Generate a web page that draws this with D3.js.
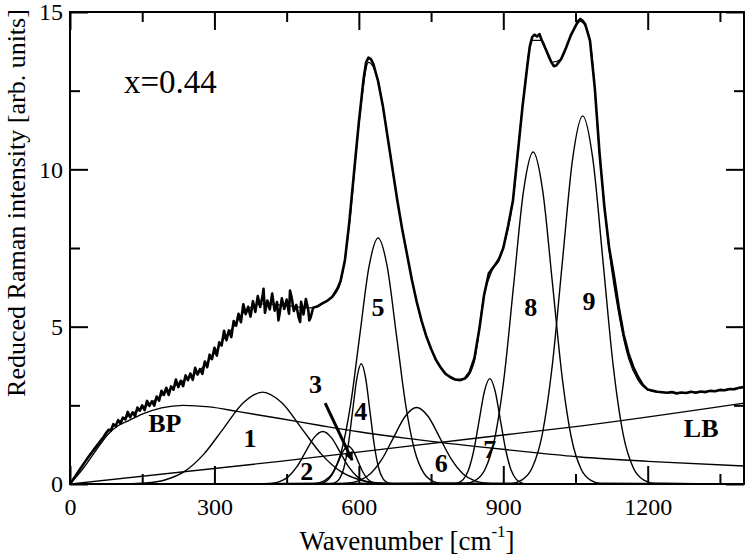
<!DOCTYPE html>
<html><head><meta charset="utf-8">
<script src="https://cdn.jsdelivr.net/npm/d3@7"></script>
<style>body{margin:0;background:#fff}svg{display:block}</style>
</head><body>
<svg id="chart" width="747" height="557"></svg>
<script>
// ---------------- DATA ----------------
const xTicksMajor = [0, 300, 600, 900, 1200];
const xTicksMinor = [150, 450, 750, 1050, 1350];
const yTicksMajor = [0, 5, 10, 15];
const yTicksMinor = [2.5, 7.5, 12.5];

const measured = [
[0,0],[10,0.22],[20,0.45],[30,0.68],[40,0.9],[50,1.1],[60,1.3],[70,1.5],[75,1.62],
[80,1.72],[85,1.70],[90,1.9],[95,1.84],[100,2.03],[105,1.92],[110,2.11],[115,2.05],
[120,2.29],[125,2.12],[130,2.28],[135,2.16],[140,2.43],[145,2.33],[150,2.50],[155,2.35],
[160,2.64],[165,2.48],[170,2.63],[175,2.49],[180,2.78],[185,2.65],[190,2.96],[195,2.83],
[200,3.06],[205,2.83],[210,3.10],[215,3.00],[220,3.32],[225,3.08],[230,3.28],[235,3.11],
[240,3.45],[245,3.30],[250,3.51],[255,3.31],[260,3.69],[265,3.48],[270,3.65],[275,3.50],
[280,3.89],[285,3.71],[290,4.11],[295,3.97],[300,4.33],[305,4.08],[310,4.50],[315,4.40],
[320,4.87],[325,4.57],[330,4.88],[335,4.67],[340,5.18],[345,5.03],[350,5.41],[355,5.14],
[360,5.71],[365,5.40],[370,5.63],[375,5.32],[380,5.81],[385,5.47],[390,5.97],[395,5.63],
[400,5.97],[402,6.2],[405,5.44],[410,5.83],[415,5.55],[420,6.05],[425,5.51],[430,5.78],[433,5.2],[435,5.38],
[440,5.90],[445,5.56],[450,5.86],[455,5.41],[457,6.15],[460,5.96],[465,5.50],[470,5.69],[475,5.29],
[478,5.15],[480,5.79],[485,5.39],[490,5.88],[495,5.52],[497,5.2],[500,5.30],
[505,5.60],[515,5.65],[525,5.75],[535,5.83],[545,5.95],[555,6.2],[562,6.45],[571,7.1],
[580,8.3],[590,9.9],[600,11.5],[610,12.9],[615,13.4],[620,13.55],[625,13.5],[630,13.35],
[640,12.8],[650,12.0],[660,11.0],[670,10.0],[680,9.0],[690,8.1],[700,7.3],[710,6.5],
[720,5.8],[730,5.2],[740,4.7],[750,4.3],[760,3.95],[770,3.7],[780,3.5],[790,3.4],
[800,3.32],[810,3.3],[820,3.35],[830,3.55],[840,4.0],[850,4.9],[860,6.0],[870,6.7],
[880,6.9],[890,7.1],[900,7.5],[910,8.2],[920,9.0],[930,10.5],[940,12.0],[950,13.3],
[955,13.9],[960,14.2],[965,14.28],[970,14.22],[975,14.3],[980,14.1],[990,13.75],[1000,13.4],
[1005,13.28],[1010,13.3],[1020,13.5],[1030,13.85],[1040,14.25],[1050,14.55],[1055,14.7],[1060,14.78],
[1065,14.72],[1070,14.62],[1080,14.1],[1090,12.6],[1100,10.5],[1110,8.8],[1120,7.5],[1130,6.6],
[1140,5.6],[1150,4.75],[1160,4.15],[1170,3.72],[1180,3.4],[1190,3.15],[1200,3.0],[1220,2.93],
[1240,2.9],[1250,2.92],[1260,2.88],[1270,2.91],[1280,2.89],[1290,2.93],[1300,2.9],[1310,2.94],
[1320,2.92],[1330,2.96],[1340,2.95],[1350,2.99],[1360,2.98],[1370,3.02],[1380,3.01],[1390,3.06],[1400,3.08]
];

const fitCurve = [
[0,0],[20,0.45],[40,0.9],[60,1.3],[80,1.68],[100,1.96],[120,2.15],[140,2.33],[160,2.5],
[180,2.7],[200,2.93],[220,3.14],[240,3.32],[260,3.5],[280,3.78],[300,4.15],[320,4.62],
[340,5.0],[360,5.45],[380,5.65],[400,5.72],[420,5.71],[440,5.68],[460,5.65],[480,5.62],
[500,5.6],[520,5.7],[540,5.88],[560,6.3],[580,8.2],[600,11.4],[620,13.4],[640,12.8],
[660,11.0],[680,9.0],[700,7.3],[720,5.8],[740,4.7],[760,3.95],[780,3.5],[800,3.32],
[820,3.35],[840,3.9],[860,6.0],[880,6.9],[900,7.5],[920,9.0],[940,12.0],[960,14.1],
[980,14.1],[1000,13.4],[1020,13.5],[1040,14.25],[1060,14.7],[1080,14.1],[1100,10.5],
[1120,7.4],[1140,5.4],[1160,4.0],[1180,3.3],[1200,3.0],[1220,2.92],[1260,2.9],
[1300,2.92],[1340,2.97],[1400,3.08]
];

const compBP = [[0,0],[25,0.45],[50,0.98],[80,1.6],[100,1.85],[120,2.0],[150,2.22],[190,2.42],
[235,2.5],[290,2.45],[350,2.3],[436,2.08],[520,1.86],[600,1.66],[700,1.45],[851,1.18],
[950,1.02],[1059,0.86],[1200,0.72],[1400,0.57]];
const compLB = [[0,0],[436,0.72],[851,1.47],[1059,1.84],[1400,2.57]];
const comp1 = [[0,0],[76,0.001],[116,0.006],[157,0.032],[197,0.128],[238,0.40],[278,0.95],[319,1.77],[360,2.58],[400,2.92],[440,2.58],[481,1.77],[522,0.95],[562,0.40],[603,0.128],[643,0.032],[684,0.006],[724,0.001],[1400,0]];
const comp2 = [[0,0],[399,0.004],[417,0.019],[435,0.073],[453,0.226],[471,0.542],[489,1.013],[507,1.474],[525,1.67],[543,1.474],[561,1.013],[579,0.542],[597,0.226],[615,0.073],[633,0.019],[651,0.004],[1400,0]];
const comp3 = [[0,0],[508,0.003],[518,0.013],[528,0.053],[538,0.162],[548,0.39],[558,0.728],[568,1.059],[578,1.2],[588,1.059],[598,0.728],[608,0.39],[618,0.162],[628,0.053],[638,0.013],[648,0.003],[1400,0]];
const comp4 = [[0,0],[542,0.008],[551,0.042],[560,0.168],[569,0.517],[578,1.24],[587,2.317],[596,3.371],[605,3.82],[614,3.371],[623,2.317],[632,1.24],[641,0.517],[650,0.168],[659,0.042],[668,0.008],[1400,0]];
const comp5 = [[0,0],[507,0.017],[526,0.087],[545,0.343],[564,1.058],[583,2.54],[602,4.74],[621,6.90],[640,7.82],[659,6.90],[678,4.74],[697,2.54],[716,1.058],[735,0.343],[754,0.087],[773,0.017],[1400,0]];
const comp6 = [[0,0],[552,0.005],[576,0.027],[600,0.107],[624,0.329],[648,0.789],[672,1.474],[696,2.144],[720,2.43],[744,2.144],[768,1.474],[792,0.789],[816,0.329],[840,0.107],[864,0.027],[888,0.005],[1400,0]];
const comp7 = [[0,0],[795,0.007],[806,0.037],[817,0.147],[828,0.453],[839,1.088],[850,2.032],[861,2.956],[872,3.35],[883,2.956],[894,2.032],[905,1.088],[916,0.453],[927,0.147],[938,0.037],[949,0.007],[1400,0]];
const comp8 = [[0,0],[822,0.023],[842,0.117],[862,0.463],[882,1.43],[902,3.43],[922,6.40],[942,9.31],[962,10.55],[982,9.31],[1002,6.40],[1022,3.43],[1042,1.43],[1062,0.463],[1082,0.117],[1102,0.023],[1400,0]];
const comp9 = [[0,0],[918,0.026],[939,0.130],[960,0.514],[981,1.58],[1002,3.80],[1023,7.10],[1044,10.33],[1065,11.7],[1086,10.33],[1107,7.10],[1128,3.80],[1149,1.58],[1170,0.514],[1191,0.130],[1212,0.026],[1400,0]];

const componentNames = ["BP","1","2","3","4","5","6","7","8","9","LB"];
const sampleLabel = "x=0.44";
const xTitle = "Wavenumber [cm";
const yTitle = "Reduced Raman intensity [arb. units]";

// ---------------- DRAWING ----------------
const L = 70, R = 744, T = 12, B = 484;
const svg = d3.select("#chart");
const FONT = "'Liberation Serif','Times New Roman',serif";

const x = d3.scaleLinear().domain([0, 1400]).range([L, R]);
const y = d3.scaleLinear().domain([0, 15]).range([B, T]);

svg.append("defs").append("clipPath").attr("id","plotclip")
  .append("rect").attr("x",L).attr("y",T).attr("width",R-L).attr("height",B-T);

const plot = svg.append("g").attr("clip-path","url(#plotclip)");
const smooth = d3.line().x(d=>x(d[0])).y(d=>y(d[1])).curve(d3.curveMonotoneX);
const straight = d3.line().x(d=>x(d[0])).y(d=>y(d[1]));

const comps = [compBP, compLB, comp1, comp2, comp3, comp4, comp5, comp6, comp7, comp8, comp9];
comps.forEach(c => plot.append("path").attr("d", smooth(c))
  .attr("fill","none").attr("stroke","#000").attr("stroke-width",1.4));

plot.append("path").attr("d", smooth(fitCurve)).attr("fill","none")
  .attr("stroke","#000").attr("stroke-width",1.2);
plot.append("path").attr("d", straight(measured)).attr("fill","none")
  .attr("stroke","#000").attr("stroke-width",2.6).attr("stroke-linejoin","round");

// axes (ticks inward on all four sides)
function axis(gen, vals, size, transform, labels) {
  const g = svg.append("g").attr("transform", transform)
    .call(gen.tickValues(vals).tickSize(size).tickPadding(labels ? 8 : 0)
      .tickFormat(labels ? d3.format("d") : ""));
  g.select(".domain").remove();
  g.selectAll(".tick line").attr("stroke","#000").attr("stroke-width",2);
  g.selectAll("text").attr("font-family",FONT).attr("font-size",24).attr("fill","#000");
  return g;
}
axis(d3.axisBottom(x), xTicksMajor, -18, `translate(0,${B})`, true)
  .selectAll("text").attr("dy","0.95em");
axis(d3.axisBottom(x), xTicksMinor, -10, `translate(0,${B})`, false);
axis(d3.axisTop(x), xTicksMajor, -18, `translate(0,${T})`, false);
axis(d3.axisTop(x), xTicksMinor, -10, `translate(0,${T})`, false);
axis(d3.axisLeft(y), yTicksMajor, -18, `translate(${L},0)`, true)
  .selectAll("text").attr("x",-7);
axis(d3.axisLeft(y), yTicksMinor, -10, `translate(${L},0)`, false);
axis(d3.axisRight(y), yTicksMajor, -18, `translate(${R},0)`, false);
axis(d3.axisRight(y), yTicksMinor, -10, `translate(${R},0)`, false);

svg.append("rect").attr("x",L).attr("y",T).attr("width",R-L).attr("height",B-T)
  .attr("fill","none").attr("stroke","#000").attr("stroke-width",2);

// titles
const xt = svg.append("text").attr("x",(L+R)/2).attr("y",550)
  .attr("text-anchor","middle").attr("font-family",FONT).attr("font-size",27);
xt.append("tspan").text(xTitle);
xt.append("tspan").attr("font-size",17).attr("dy",-13).text("-1");
xt.append("tspan").attr("dy",13).text("]");

svg.append("text").attr("transform","translate(25,203) rotate(-90)")
  .attr("text-anchor","middle").attr("font-family",FONT).attr("font-size",26).text(yTitle);

svg.append("text").attr("x",124).attr("y",93).attr("font-family",FONT)
  .attr("font-size",33).text(sampleLabel);

// component labels (anchor in data units)
const labelPos = [[197,1.65],[374,1.18],[492,0.13],[510,2.89],[604,2.03],[640,5.34],
  [771,0.39],[872,0.83],[957,5.34],[1078,5.53],[1311,1.49]];
componentNames.forEach((n,i) => svg.append("text").attr("x",x(labelPos[i][0])).attr("y",y(labelPos[i][1]))
  .attr("text-anchor","middle").attr("font-family",FONT).attr("font-weight","bold")
  .attr("font-size",26).text(n));

// arrow from label 3
svg.append("defs").append("marker").attr("id","arr").attr("viewBox","0 0 10 10")
  .attr("refX",9).attr("refY",5).attr("markerWidth",3).attr("markerHeight",3).attr("orient","auto")
  .append("path").attr("d","M0,0L10,5L0,10z").attr("fill","#000");
svg.append("line").attr("x1",x(530)).attr("y1",y(2.57)).attr("x2",x(586)).attr("y2",y(0.76))
  .attr("stroke","#000").attr("stroke-width",3).attr("marker-end","url(#arr)");
</script>
</body></html>
